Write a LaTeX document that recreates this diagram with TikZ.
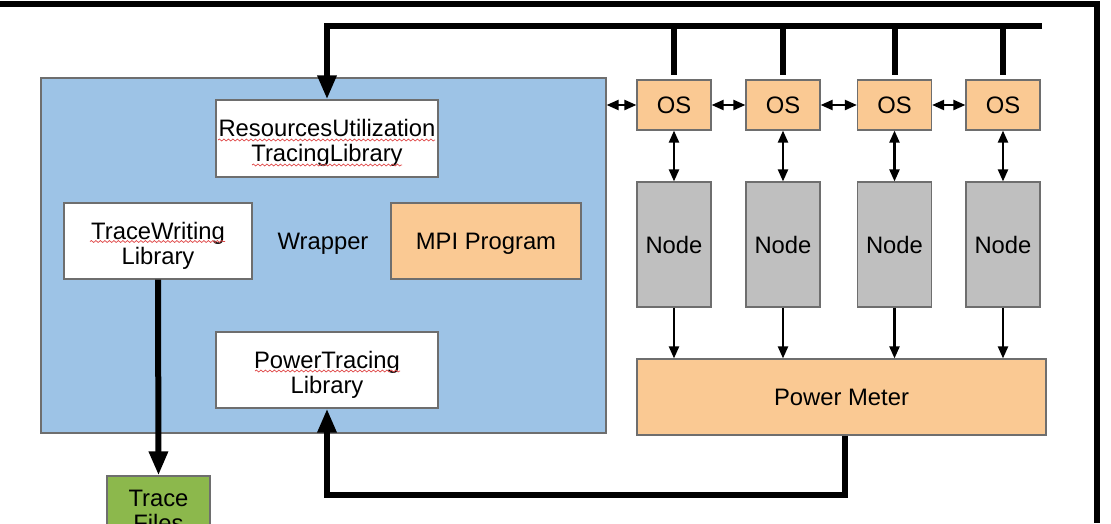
\documentclass[tikz,border=0pt]{standalone}
\usepackage{fontspec}
\setmainfont{Liberation Sans}
\usetikzlibrary{arrows.meta,decorations.pathmorphing}
\definecolor{wrapblue}{HTML}{9DC3E6}
\definecolor{boxorange}{HTML}{FAC993}
\definecolor{boxgray}{HTML}{BFBFBF}
\definecolor{boxgreen}{HTML}{8CB84C}
\definecolor{boxline}{HTML}{6E6E6E}
\definecolor{squigred}{HTML}{E04848}
\tikzset{
  txt/.style={inner sep=0pt, align=center,
    font=\fontsize{23.8}{25}\selectfont},
  onetxt/.style={txt,
    execute at begin node={\rule{0pt}{24.5pt}},
    execute at end node={\rule[-7.5pt]{0pt}{7.5pt}}},
  box/.style={onetxt, draw=boxline, line width=1.2pt},
  mltxt/.style={txt, yshift=-4.5pt},
  thickline/.style={line width=6pt, black},
  thickarrow/.style={line width=6pt, black, -{Triangle[length=24pt,width=18pt]}},
  thinarrow/.style={line width=2.2pt, black, -{Triangle[length=12pt,width=10pt]}},
  dblarrow/.style={line width=2.2pt, black, {Triangle[length=12pt,width=10pt]}-{Triangle[length=12pt,width=10pt]}},
  squig/.style={squigred, line width=0.7pt, decorate,
    decoration={snake, amplitude=1pt, segment length=4.5pt}},
  frameline/.style={line width=6.5pt, black}
}
\begin{document}
\begin{tikzpicture}[x=1pt,y=-1pt]
\useasboundingbox (0,0) rectangle (1111,523);
\clip (0,0) rectangle (1111,523);
\fill[white] (0,0) rectangle (1111,523);

% outer frame
\coordinate (ftl) at (0,4);
\coordinate (ftr) at (1097,4);
\coordinate (fbr) at (1097,523);
\draw[frameline] (ftl) -- (ftr) -- (fbr);

% wrapper
\node[box, fill=wrapblue, minimum width=565pt, minimum height=355pt] (wrap) at (323.5,255.5) {};
\node[box, fill=white, minimum width=222pt, minimum height=77pt] (res) at (327,138.5) {};
\node[mltxt] (rest) at (res.center) {ResourcesUtilization\\TracingLibrary};
\node[box, fill=white, minimum width=188pt, minimum height=76pt] (tw) at (158,241) {};
\node[mltxt] (twt) at (tw.center) {TraceWriting\\Library};
\node[onetxt] (wtext) at (323,241) {Wrapper};
\node[box, fill=boxorange, minimum width=190pt, minimum height=76pt] (mpi) at (486,241) {MPI Program};
\node[box, fill=white, minimum width=222pt, minimum height=76pt] (pt) at (327,370) {};
\node[mltxt] (ptt) at (pt.center) {PowerTracing\\Library};
\node[box, fill=boxgreen, minimum width=103pt, minimum height=66pt] (tf) at (158.5,509) {};
\node[txt, yshift=-1.5pt] (tft) at (tf.center) {Trace\\Files};

% spell-check squiggles
\draw[squig] (218,140) -- (435,140);
\draw[squig] (252,165) -- (402,165);
\draw[squig] (90,241.5) -- (225,241.5);
\draw[squig] (255,371) -- (400,371);

% OS boxes
\foreach \i/\x in {1/674,2/783,3/894.5,4/1003}{
  \node[box, fill=boxorange, minimum width=74pt, minimum height=50pt] (os\i) at (\x,105) {OS};
  \node[box, fill=boxgray, minimum width=74pt, minimum height=125pt] (nd\i) at (\x,244.5) {Node};
}
\node[box, fill=boxorange, minimum width=409pt, minimum height=76pt] (pm) at (841.5,397) {Power Meter};

% bus
\coordinate (busend) at (1042,26);
\draw[thickarrow] (busend) -- (res.north |- busend) -- (res.north);
\foreach \i in {1,...,4}{
  \draw[thickline] (os\i.north |- busend) -- ([yshift=4pt]os\i.north);
}

% horizontal double arrows
\draw[dblarrow] (wrap.east |- os1.west) -- (os1.west);
\draw[dblarrow] (os1.east) -- (os2.west);
\draw[dblarrow] (os2.east) -- (os3.west);
\draw[dblarrow] (os3.east) -- (os4.west);

% OS <-> Node, Node -> Power Meter
\foreach \i in {1,...,4}{
  \draw[dblarrow] (os\i.south) -- (nd\i.north);
  \draw[thinarrow] (nd\i.south) -- (nd\i.south |- pm.north);
}

% trace writing -> trace files
\draw[thickarrow] (tw.south) -- (tf.north);

% power meter -> power tracing
\coordinate (pmturn) at (845,495);
\draw[thickarrow] (pm.south -| pmturn) -- (pmturn) -- (pt.south |- pmturn) -- (pt.south);
\end{tikzpicture}
\end{document}
